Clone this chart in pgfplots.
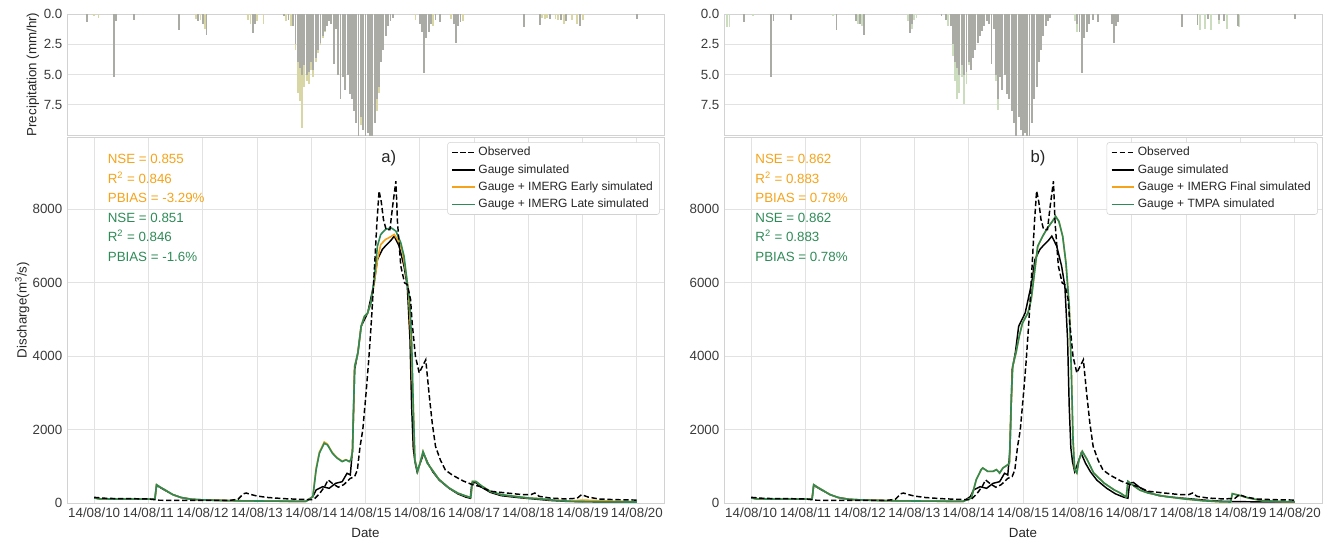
\documentclass[border=0pt]{standalone}
\usepackage{fontspec}
\setmainfont{Liberation Sans}
\usepackage{pgfplots}
\pgfplotsset{compat=1.18}
\usepackage{pgfplotstable}

\definecolor{gridc}{HTML}{E2E2E2}
\definecolor{axisc}{HTML}{D2D2D2}
\definecolor{tickc}{HTML}{3A3A3A}
\definecolor{orng}{HTML}{F5A31A}
\definecolor{grn}{HTML}{2E8B57}
\definecolor{bargray}{HTML}{ABABA6}
\definecolor{barsata}{HTML}{D9D6A6}
\definecolor{barsatb}{HTML}{CCDDBF}

% ---- precipitation (mm/hr), hourly bars ----
\pgfplotstableread{
t p
9.87 0.7
10.37 5.2
10.41 0.6
10.74 0.5
11.57 1.3
11.92 0.6
12.00 0.8
12.07 1.7
12.92 1.6
12.96 0.8
13.50 0.2
13.58 0.5
13.67 1.0
13.71 2.5
13.75 4.0
13.79 4.5
13.83 5.0
13.87 4.2
13.92 5.0
13.96 4.8
14.00 4.0
14.04 4.6
14.08 3.6
14.12 3.0
14.17 2.4
14.21 1.8
14.25 1.4
14.29 1.0
14.33 0.6
14.37 0.8
14.42 4.1
14.46 1.2
14.50 5.0
14.54 7.0
14.58 5.2
14.62 6.3
14.67 5.0
14.71 6.6
14.75 7.0
14.79 8.0
14.83 9.0
14.87 10.2
14.92 8.5
14.96 9.6
15.00 10.2
15.04 9.8
15.08 10.2
15.12 10.2
15.17 9.0
15.21 7.0
15.25 6.0
15.29 4.0
15.33 3.0
15.37 1.8
15.42 1.0
15.46 0.6
15.50 0.3
16.00 0.8
16.04 1.5
16.08 4.9
16.12 2.0
16.17 1.5
16.21 0.8
16.29 0.5
16.38 0.7
16.63 0.8
16.67 2.4
16.71 1.0
16.75 0.7
17.92 1.1
18.21 0.9
18.40 0.4
18.60 0.5
18.70 0.6
18.96 1.0
20.00 0.4
}\gaugeP

\pgfplotstableread{
t p
10.00 0.2
10.08 0.3
11.88 0.4
11.96 0.5
12.04 1.2
12.83 0.5
12.88 0.8
13.00 0.6
13.12 0.8
13.54 0.6
13.62 1.0
13.71 3.0
13.75 6.5
13.79 7.2
13.83 9.4
13.87 6.0
13.92 5.5
13.96 5.8
14.00 4.6
14.04 5.2
14.08 4.0
14.12 3.2
14.17 2.6
14.21 2.0
14.25 1.5
14.92 9.2
15.21 8.0
15.25 6.5
15.92 0.5
16.25 1.0
16.58 0.4
16.79 0.6
18.25 0.3
18.30 0.4
18.35 0.3
18.50 0.4
18.55 0.5
18.65 0.8
18.80 0.5
18.90 0.8
19.00 0.5
}\satPa

\pgfplotstableread{
t p
9.55 1.1
9.60 1.1
10.04 0.2
11.50 0.2
11.96 0.8
12.04 1.0
12.88 0.6
12.96 1.2
13.00 0.5
13.04 0.3
13.62 1.0
13.71 3.5
13.75 5.5
13.79 7.0
13.83 6.5
13.87 5.2
13.92 7.4
13.96 5.8
14.00 4.2
14.04 4.4
14.08 3.5
14.12 3.0
14.17 2.3
14.50 5.5
14.54 7.9
15.96 0.6
16.00 1.5
16.08 4.7
18.25 1.3
18.35 1.2
18.45 1.3
18.60 0.8
18.75 1.2
18.97 1.1
}\satPb

% ---- discharge (m3/s) ----
\pgfplotstableread{
t q
10.00 154
10.20 130
10.40 120
10.70 118
11.00 110
11.20 75
11.50 73
12.00 73
12.50 73
12.65 100
12.75 250
12.80 272
12.90 227
13.00 190
13.20 150
13.50 118
13.80 100
14.00 91
14.05 100
14.15 250
14.25 450
14.31 630
14.40 520
14.50 430
14.60 500
14.72 670
14.80 720
14.85 900
14.90 1540
14.95 1990
15.01 2990
15.06 3900
15.11 4990
15.16 6260
15.21 7630
15.25 8490
15.29 8200
15.33 7720
15.38 7440
15.45 7440
15.50 8080
15.56 8760
15.59 7630
15.65 6450
15.72 5990
15.77 5945
15.83 5540
15.86 4900
15.92 3990
15.99 3540
16.05 3720
16.11 3900
16.17 2990
16.23 2170
16.29 1540
16.38 1170
16.47 900
16.60 760
16.80 600
16.97 500
17.10 453
17.30 320
17.60 272
17.90 227
18.05 230
18.12 272
18.20 181
18.40 136
18.70 109
18.90 130
18.98 227
19.10 163
19.30 109
19.60 91
20.00 80
}\obs

\pgfplotstableread{
t q
10.00 136
10.10 115
10.30 109
10.60 105
11.00 105
11.12 109
11.15 480
11.22 420
11.30 350
11.45 230
11.60 150
11.80 100
12.00 85
12.30 70
12.60 62
13.00 55
13.50 48
13.90 45
14.03 173
14.09 354
14.21 445
14.33 400
14.45 536
14.57 580
14.66 809
14.72 763
14.76 1445
14.80 3627
14.86 4100
14.92 4808
15.04 5172
15.16 5990
15.22 6626
15.31 6900
15.37 7000
15.47 7150
15.53 7263
15.62 6990
15.71 6445
15.77 5900
15.82 4445
15.85 2627
15.88 1500
15.91 1127
15.95 854
16.03 1172
16.07 1354
16.15 1081
16.24 850
16.36 620
16.54 400
16.70 250
16.85 160
16.93 130
16.96 540
17.03 560
17.15 420
17.30 290
17.50 200
17.80 150
18.10 110
18.40 70
18.70 45
19.00 36
19.50 30
20.00 27
}\gauge

\pgfplotstableread{
t q
10.00 136
10.10 115
10.30 109
10.60 105
11.00 105
11.12 109
11.15 499
11.22 430
11.30 363
11.45 227
11.60 150
11.80 100
12.00 85
12.30 70
12.60 62
13.00 55
13.50 48
13.90 45
14.03 173
14.09 950
14.15 1380
14.24 1660
14.30 1600
14.39 1370
14.48 1230
14.57 1140
14.64 1180
14.70 1130
14.73 1180
14.76 1400
14.80 3718
14.86 4081
14.92 4808
14.98 5080
15.04 5172
15.10 5444
15.16 5990
15.22 6626
15.28 7035
15.37 7172
15.47 7250
15.53 7308
15.60 7150
15.68 6850
15.74 6300
15.79 5800
15.84 4445
15.88 2627
15.91 1172
15.96 854
16.02 1172
16.06 1400
16.14 1081
16.23 900
16.35 650
16.53 420
16.70 270
16.85 190
16.94 150
16.97 590
17.03 590
17.15 453
17.30 317
17.50 227
17.75 181
18.00 136
18.20 118
18.50 73
18.80 55
19.00 80
19.30 63
19.60 50
20.00 40
}\early

\pgfplotstableread{
t q
10.00 136
10.10 115
10.30 109
10.60 105
11.00 105
11.12 109
11.15 499
11.22 430
11.30 363
11.45 227
11.60 150
11.80 100
12.00 85
12.30 70
12.60 62
13.00 55
13.50 48
13.90 45
14.03 173
14.09 900
14.15 1354
14.24 1627
14.30 1580
14.39 1354
14.48 1218
14.57 1127
14.64 1172
14.70 1127
14.73 1172
14.76 1400
14.80 3718
14.86 4081
14.92 4808
14.98 5080
15.04 5172
15.10 5444
15.16 6081
15.22 6990
15.28 7308
15.37 7445
15.47 7490
15.56 7400
15.65 7081
15.71 6718
15.77 5990
15.81 5536
15.85 4445
15.88 2627
15.91 1172
15.96 854
16.02 1172
16.06 1400
16.14 1081
16.23 900
16.35 650
16.53 420
16.70 270
16.85 190
16.94 150
16.97 590
17.03 590
17.15 453
17.30 317
17.50 227
17.75 181
18.00 136
18.20 118
18.50 73
18.80 45
19.20 36
19.60 30
20.00 27
}\late

\pgfplotstableread{
t q
10.00 136
10.10 115
10.30 109
10.60 105
11.00 105
11.12 109
11.15 499
11.22 430
11.30 363
11.45 227
11.60 150
11.80 100
12.00 85
12.30 70
12.60 62
13.00 55
13.50 48
13.90 45
14.05 136
14.14 635
14.23 907
14.26 952
14.35 862
14.45 862
14.51 907
14.57 816
14.63 952
14.72 1043
14.75 1088
14.78 2630
14.81 3719
14.87 4082
14.93 4535
14.99 4898
15.09 5170
15.15 5533
15.21 6258
15.27 6984
15.36 7256
15.45 7483
15.54 7665
15.60 7800
15.66 7665
15.73 7256
15.79 6530
15.85 5351
15.89 3537
15.92 1723
15.95 907
15.99 816
16.03 1179
16.09 1406
16.18 1179
16.30 816
16.49 544
16.67 363
16.79 272
16.90 163
16.93 590
17.05 453
17.15 350
17.30 272
17.60 181
17.98 109
18.30 63
18.60 36
18.82 27
18.85 254
19.00 200
19.15 136
19.40 63
19.80 40
20.00 36
}\tmpa

\pgfplotsset{
  base/.style={
    scale only axis, anchor=south west,
    xmin=9.5, xmax=20.5,
    axis line style={axisc, line width=0.7pt},
    grid style={gridc, line width=0.6pt},
    major tick length=0pt,
    tick style={draw=none},
    ticklabel style={font=\fontsize{10}{12}\selectfont, text=tickc},
    label style={font=\fontsize{10}{12}\selectfont, text=black!85},
    /pgf/number format/assume math mode=true,
    xtick={10,...,20},
  },
  precip/.style={base, height=90.75pt,
    ymin=0, ymax=10, y dir=reverse,
    ytick={0,2.5,5,7.5}, ymajorgrids,
    yticklabel style={/pgf/number format/.cd, fixed, fixed zerofill, precision=1},
    xticklabels={},
  },
  flow/.style={base, height=274.5pt,
    ymin=0, ymax=9960, ytick={0,2000,4000,6000,8000},
    scaled y ticks=false,
    yticklabel style={/pgf/number format/.cd, 1000 sep={}},
    grid=major,
    xticklabels={14/08/10,14/08/11,14/08/12,14/08/13,14/08/14,14/08/15,14/08/16,14/08/17,14/08/18,14/08/19,14/08/20},
    xlabel={Date},
    xlabel style={at={(axis description cs:0.5,-0.082)}, anchor=center},
    legend cell align=left,
    legend image code/.code={\draw[#1] (0pt,0pt) -- (17pt,0pt);},
    legend style={at={(axis description cs:0.993,0.986)}, anchor=north east,
      draw=axisc, fill=white, rounded corners=2pt,
      font=\fontsize{9}{10.5}\selectfont, text=black!85,
      inner xsep=3pt, inner ysep=1.5pt, row sep=1pt},
  },
  bars/.style={ycomb, no markers, line width=1.4pt},
  obsl/.style={black, line width=1.1pt, dash pattern=on 4pt off 2pt},
  simb/.style={black, line width=1.1pt},
  simo/.style={orng, line width=1.2pt},
  simg/.style={grn, line width=1.2pt},
}

\begin{document}
\begin{tikzpicture}
\useasboundingbox (0pt,0pt) rectangle (992.25pt,-404.25pt);

% ===== panel a =====
\begin{axis}[precip, at={(50.25pt,-101.25pt)}, width=447.75pt,
  ylabel={Precipitation (mm/hr)},
  ylabel style={at={(axis description cs:-0.057,0.5)}, anchor=center}]
\addplot[bars, draw=barsata] table[x=t, y=p] {\satPa};
\addplot[bars, draw=bargray] table[x=t, y=p] {\gaugeP};
\end{axis}

\begin{axis}[flow, at={(50.25pt,-377.25pt)}, width=447.75pt,
  ylabel={Discharge(m\textsuperscript{3}/s)},
  ylabel style={at={(axis description cs:-0.075,0.527)}, anchor=center}]
\addlegendimage{obsl}\addlegendentry{Observed}
\addlegendimage{simb}\addlegendentry{Gauge simulated}
\addlegendimage{simo}\addlegendentry{Gauge + IMERG Early simulated}
\addlegendimage{simg}\addlegendentry{Gauge + IMERG Late simulated}
\addplot[simb, forget plot] table[x=t, y=q] {\gauge};
\addplot[simo, forget plot] table[x=t, y=q] {\early};
\addplot[simg, forget plot] table[x=t, y=q] {\late};
\addplot[obsl, forget plot] table[x=t, y=q] {\obs};
\node[anchor=north west, align=left, inner sep=0pt,
      font=\fontsize{10}{14.6}\selectfont]
  at (axis description cs:0.068,0.953)
  {\textcolor{orng}{NSE = 0.855}\\
   \textcolor{orng}{R\textsuperscript{2} = 0.846}\\
   \textcolor{orng}{PBIAS = -3.29\%}\\
   \textcolor{grn}{NSE = 0.851}\\
   \textcolor{grn}{R\textsuperscript{2} = 0.846}\\
   \textcolor{grn}{PBIAS = -1.6\%}};
\node[font=\fontsize{12.5}{14}\selectfont, text=black!85]
  at (axis description cs:0.539,0.9426) {a)};
\end{axis}

% ===== panel b =====
\begin{axis}[precip, at={(543pt,-101.25pt)}, width=448.5pt]
\addplot[bars, draw=barsatb] table[x=t, y=p] {\satPb};
\addplot[bars, draw=bargray] table[x=t, y=p] {\gaugeP};
\end{axis}

\begin{axis}[flow, at={(543pt,-377.25pt)}, width=448.5pt]
\addlegendimage{obsl}\addlegendentry{Observed}
\addlegendimage{simb}\addlegendentry{Gauge simulated}
\addlegendimage{simo}\addlegendentry{Gauge + IMERG Final simulated}
\addlegendimage{simg}\addlegendentry{Gauge + TMPA simulated}
\addplot[simb, forget plot] table[x=t, y=q] {\gauge};
\addplot[simo, forget plot] table[x=t, y=q] {\tmpa};
\addplot[simg, forget plot] table[x=t, y=q] {\tmpa};
\addplot[obsl, forget plot] table[x=t, y=q] {\obs};
\node[anchor=north west, align=left, inner sep=0pt,
      font=\fontsize{10}{14.6}\selectfont]
  at (axis description cs:0.052,0.953)
  {\textcolor{orng}{NSE = 0.862}\\
   \textcolor{orng}{R\textsuperscript{2} = 0.883}\\
   \textcolor{orng}{PBIAS = 0.78\%}\\
   \textcolor{grn}{NSE = 0.862}\\
   \textcolor{grn}{R\textsuperscript{2} = 0.883}\\
   \textcolor{grn}{PBIAS = 0.78\%}};
\node[font=\fontsize{12.5}{14}\selectfont, text=black!85]
  at (axis description cs:0.525,0.9426) {b)};
\end{axis}
\end{tikzpicture}
\end{document}
